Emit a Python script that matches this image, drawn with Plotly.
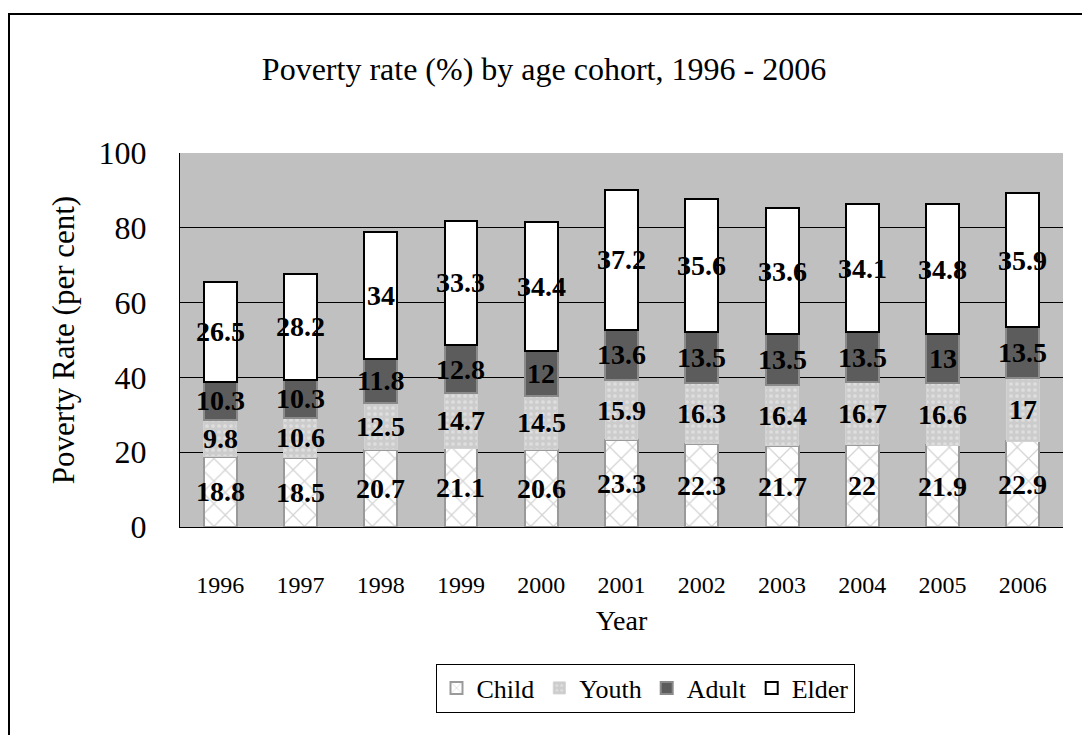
import plotly.graph_objects as go

years = ["1996", "1997", "1998", "1999", "2000", "2001", "2002", "2003", "2004", "2005", "2006"]
child = [18.8, 18.5, 20.7, 21.1, 20.6, 23.3, 22.3, 21.7, 22, 21.9, 22.9]
youth = [9.8, 10.6, 12.5, 14.7, 14.5, 15.9, 16.3, 16.4, 16.7, 16.6, 17]
adult = [10.3, 10.3, 11.8, 12.8, 12, 13.6, 13.5, 13.5, 13.5, 13, 13.5]
elder = [26.5, 28.2, 34, 33.3, 34.4, 37.2, 35.6, 33.6, 34.1, 34.8, 35.9]

W, H = 1082, 735
L, R, T, B = 180, 1063, 153, 527
FONT = "Liberation Serif"
idx = list(range(len(years)))

fig = go.Figure()
fig.add_trace(go.Bar(
    x=idx, y=child, name="Child", width=0.41,
    marker=dict(color="white", line=dict(color="#9a9a9a", width=2),
                pattern=dict(shape="x", fgcolor="#a8a8a8", bgcolor="white", size=16, solidity=0.15)),
))
fig.add_trace(go.Bar(
    x=idx, y=youth, name="Youth", width=0.41,
    marker=dict(color="#d2d2d2", line=dict(color="#d2d2d2", width=1),
                pattern=dict(shape=".", fgcolor="#efefef", bgcolor="#cccccc", size=6, solidity=0.3)),
))
fig.add_trace(go.Bar(
    x=idx, y=adult, name="Adult", width=0.41,
    marker=dict(color="#5c5c5c", line=dict(color="#8a8a8a", width=2)),
))
fig.add_trace(go.Bar(
    x=idx, y=elder, name="Elder", width=0.41,
    marker=dict(color="white", line=dict(color="black", width=2)),
))

# data labels at segment centres
annotations = []
for i in idx:
    base = 0
    for series in (child, youth, adult, elder):
        v = series[i]
        annotations.append(dict(
            x=i, y=base + v / 2, xref="x", yref="y", text=f"<b>{v:g}</b>",
            showarrow=False, font=dict(family=FONT, size=28, color="black"),
        ))
        base += v

pw, ph = R - L, B - T
fig.update_layout(
    width=W, height=H,
    margin=dict(l=L, r=W - R, t=T, b=H - B),
    barmode="stack",
    paper_bgcolor="white",
    plot_bgcolor="#c0c0c0",
    font=dict(family=FONT, color="black"),
    title=dict(text="Poverty rate (%) by age cohort, 1996 - 2006",
               x=544 / W, xref="container", xanchor="center",
               y=1 - 69 / H, yref="container", yanchor="middle",
               font=dict(family=FONT, size=32, color="black")),
    showlegend=True,
    legend=dict(orientation="h", x=(645 - L) / pw, xanchor="center",
                y=(B - 688) / ph, yanchor="middle",
                bordercolor="black", borderwidth=1, bgcolor="white",
                font=dict(family=FONT, size=26, color="black"),
                traceorder="normal", itemwidth=30),
    annotations=annotations,
    shapes=[
        dict(type="rect", xref="paper", yref="paper",
             x0=(9 - L) / pw, x1=(1090 - L) / pw,
             y0=(B - 745) / ph, y1=(B - 14) / ph,
             line=dict(color="black", width=2), fillcolor="rgba(0,0,0,0)", layer="below"),
    ],
)
fig.update_yaxes(range=[0, 100], dtick=20, showgrid=True, gridcolor="black", gridwidth=1,
                 showline=True, linecolor="black", linewidth=1, ticks="", zeroline=False,
                 tickfont=dict(family=FONT, size=32, color="black"), ticklabelstandoff=26,
                 title=dict(text="Poverty Rate (per cent)", font=dict(family=FONT, size=31, color="black"),
                            standoff=14))
fig.update_xaxes(type="linear", range=[-0.5, len(years) - 0.5], tickmode="array",
                 tickvals=idx, ticktext=years, showgrid=False, zeroline=False,
                 showline=True, linecolor="black", linewidth=1, ticks="",
                 tickfont=dict(family=FONT, size=24, color="black"), ticklabelstandoff=36,
                 title=dict(text="Year", font=dict(family=FONT, size=28, color="black"), standoff=13))

fig.write_html("out.html")
